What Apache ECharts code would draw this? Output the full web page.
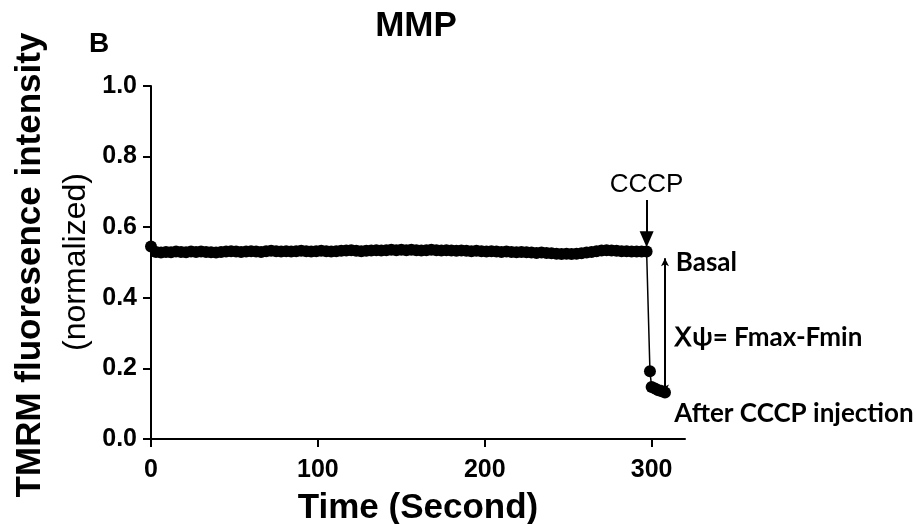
<!DOCTYPE html>
<html>
<head>
<meta charset="utf-8">
<script src="https://cdn.jsdelivr.net/npm/echarts@6/dist/echarts.min.js"></script>
<style>html,body{margin:0;padding:0;background:#fff;}#c{width:916px;height:524px;}</style>
</head>
<body>
<div id="c"></div>
<script>
// Basal recording, one point every 3 s from 0 to 297 s
const basalTimes = [
  0,3,6,9,12,15,18,21,24,27,30,33,36,39,42,45,48,51,54,57,
  60,63,66,69,72,75,78,81,84,87,90,93,96,99,102,105,108,111,114,117,
  120,123,126,129,132,135,138,141,144,147,150,153,156,159,162,165,168,171,174,177,
  180,183,186,189,192,195,198,201,204,207,210,213,216,219,222,225,228,231,234,237,
  240,243,246,249,252,255,258,261,264,267,270,273,276,279,282,285,288,291,294,297
];
const basalValues = [
  0.545,0.530,0.528,0.530,0.529,0.531,0.530,0.529,0.531,0.530,
  0.531,0.530,0.529,0.528,0.530,0.531,0.532,0.531,0.530,0.531,
  0.532,0.531,0.530,0.532,0.533,0.532,0.531,0.532,0.531,0.532,
  0.533,0.532,0.531,0.532,0.533,0.532,0.531,0.532,0.533,0.534,
  0.535,0.533,0.532,0.533,0.534,0.535,0.534,0.535,0.536,0.535,
  0.536,0.535,0.536,0.535,0.534,0.535,0.536,0.535,0.534,0.535,
  0.534,0.533,0.534,0.533,0.532,0.533,0.532,0.531,0.532,0.531,
  0.530,0.531,0.530,0.529,0.530,0.529,0.528,0.527,0.528,0.527,
  0.526,0.525,0.524,0.525,0.524,0.525,0.526,0.528,0.530,0.532,
  0.534,0.535,0.534,0.533,0.532,0.532,0.531,0.531,0.531,0.531
];
// After CCCP injection
const cccpTimes  = [299, 300, 302, 304, 306, 308];
const cccpValues = [0.192, 0.147, 0.143, 0.138, 0.135, 0.132];

const xTicks = [0, 100, 200, 300];
const yTicks = [0.0, 0.2, 0.4, 0.6, 0.8, 1.0];

// annotation anchors (data coordinates)
const cccpArrow = [[297, 0.677], [297, 0.566]];
const deltaArrow = [[308, 0.512], [308, 0.132]];

const data = basalTimes.map((t, i) => [t, basalValues[i]])
  .concat(cccpTimes.map((t, i) => [t, cccpValues[i]]));

const chart = echarts.init(document.getElementById('c'));
const ARIAL = 'Liberation Sans, Arial, sans-serif';
const annFont = 'Lato, sans-serif';

chart.setOption({
  backgroundColor: '#fff',
  animation: false,
  grid: {left: 151, right: 231, top: 86, bottom: 85, containLabel: false, outerBoundsMode: 'none'},
  xAxis: {
    type: 'value', min: 0, max: 320, interval: 100,
    axisLine: {lineStyle: {color: '#000', width: 2}},
    axisTick: {show: true, length: 8, lineStyle: {color: '#000', width: 2}, customValues: xTicks},
    axisLabel: {margin: 19, customValues: xTicks, fontFamily: ARIAL, fontWeight: 'bold', fontSize: 25, color: '#000'},
    splitLine: {show: false},
    name: 'Time (Second)', nameLocation: 'middle', nameGap: 52,
    nameTextStyle: {fontFamily: ARIAL, fontWeight: 'bold', fontSize: 35, color: '#000'}
  },
  yAxis: {
    type: 'value', min: 0, max: 1, interval: 0.2,
    axisLine: {show: true, lineStyle: {color: '#000', width: 2}},
    axisTick: {show: true, length: 8, lineStyle: {color: '#000', width: 2}, customValues: yTicks},
    axisLabel: {margin: 14, customValues: yTicks, formatter: v => v.toFixed(1), fontFamily: ARIAL, fontWeight: 'bold', fontSize: 25, color: '#000'},
    splitLine: {show: false}
  },
  graphic: [
    {type: 'text', x: 416, y: 26, style: {text: 'MMP', fontFamily: ARIAL, fontWeight: 'bold', fontSize: 35, fill: '#000', textAlign: 'center', textVerticalAlign: 'middle'}},
    {type: 'text', x: 99, y: 44, style: {text: 'B', fontFamily: ARIAL, fontWeight: 'bold', fontSize: 28, fill: '#000', textAlign: 'center', textVerticalAlign: 'middle'}},
    {type: 'text', x: 30, y: 265, rotation: Math.PI / 2, style: {text: 'TMRM fluoresence intensity', fontFamily: ARIAL, fontWeight: 'bold', fontSize: 35, fill: '#000', textAlign: 'center', textVerticalAlign: 'middle'}},
    {type: 'text', x: 76, y: 262, rotation: Math.PI / 2, style: {text: '(normalized)', fontFamily: ARIAL, fontSize: 32, fill: '#000', textAlign: 'center', textVerticalAlign: 'middle'}}
  ],
  series: [{
    type: 'line',
    data: data,
    clip: false,
    symbol: 'circle',
    symbolSize: 12,
    showAllSymbol: true,
    itemStyle: {color: '#000'},
    lineStyle: {color: '#000', width: 1.5},
    markLine: {
      silent: true,
      animation: false,
      label: {show: false},
      lineStyle: {color: '#000', type: 'solid', width: 2},
      data: [
        [{coord: cccpArrow[0], symbol: 'none'}, {coord: cccpArrow[1], symbol: 'triangle', symbolSize: [14, 16], symbolRotate: 180}],
        [{coord: deltaArrow[0], symbol: 'arrow', symbolSize: [6, 8]}, {coord: deltaArrow[1], symbol: 'arrow', symbolSize: [6, 8]}]
      ]
    },
    markPoint: {
      silent: true,
      symbol: 'circle', symbolSize: 0,
      data: [
        {coord: [297, 0.719], label: {show: true, formatter: 'CCCP', position: 'inside', fontFamily: ARIAL, fontSize: 26, color: '#000'}},
        {coord: [314.5, 0.501], label: {show: true, formatter: 'Basal', position: 'right', distance: 0, fontFamily: annFont, fontWeight: 'bold', fontSize: 26, color: '#000'}},
        {coord: [313.5, 0.288], label: {show: true, formatter: 'Ⅹψ= Fmax-Fmin', position: 'right', distance: 0, fontFamily: annFont, fontWeight: 'bold', fontSize: 26, color: '#000'}},
        {coord: [313.5, 0.073], label: {show: true, formatter: 'After CCCP injection', position: 'right', distance: 0, fontFamily: annFont, fontWeight: 'bold', fontSize: 26, color: '#000'}}
      ]
    }
  }]
});
</script>
</body>
</html>
